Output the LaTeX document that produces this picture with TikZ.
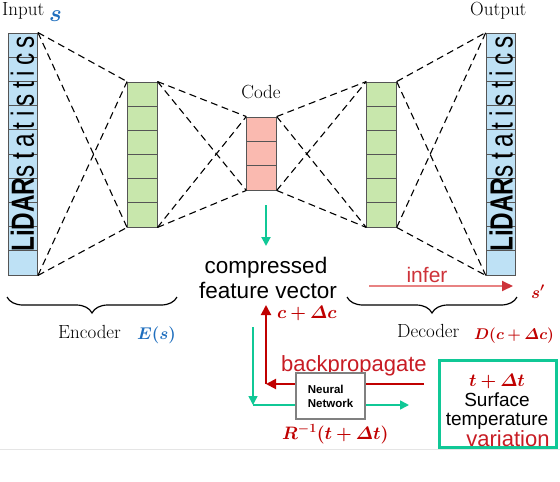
\RequirePackage{fix-cm}
\documentclass[tikz,border=0pt]{standalone}
\usepackage{amsmath}
\usepackage{bm}
\usepackage{fontspec}
\newfontfamily\arialf{Liberation Sans}
\newfontfamily\arialsp[LetterSpace=22]{Liberation Sans}
\usetikzlibrary{arrows.meta,decorations.pathreplacing}
\definecolor{lidarblue}{RGB}{190,225,245}
\definecolor{hidgreen}{RGB}{200,231,172}
\definecolor{codepink}{RGB}{250,186,176}
\definecolor{barb}{RGB}{85,85,85}
\definecolor{tealc}{RGB}{16,200,150}
\definecolor{dkred}{RGB}{192,0,0}
\definecolor{redtxt}{RGB}{200,28,36}
\definecolor{sblue}{RGB}{30,110,190}
\definecolor{inferline}{RGB}{232,130,130}
\definecolor{nngray}{RGB}{128,128,128}
\begin{document}
\begin{tikzpicture}[x=1pt,y=-1pt,
  bar/.style={draw=barb,line width=0.9pt,inner sep=0pt,minimum width=29.5pt},
  cell/.style={draw=barb,line width=0.8pt},
  conn/.style={black,line width=1.1pt,dash pattern=on 7pt off 4.5pt},
  serif/.style={font=\fontsize{19}{22}\selectfont,inner sep=0pt},
  mathlab/.style={font=\fontsize{17}{20}\selectfont,inner sep=0pt},
  sanslab/.style={font=\arialf\fontsize{22}{25}\selectfont,inner sep=0pt},
  lidartext/.style={rotate=90,anchor=base west,inner sep=0pt},
  bracestyle/.style={decorate,decoration={brace,mirror,amplitude=16pt},line width=1.2pt},
  tealarrow/.style={tealc,line width=1.6pt,-{Triangle[length=9pt,width=9pt]}},
  redarrow/.style={dkred,line width=2pt,-{Triangle[length=10pt,width=10pt]}}
]
\useasboundingbox (0,0) rectangle (560,482);
\fill[white] (0,0) rectangle (560,482);
\draw[black!10,line width=0.6pt] (0,449) -- (560,449);

% bars
\node[bar,fill=lidarblue,minimum height=242pt] (in) at (22.75,154) {};
\node[bar,fill=hidgreen,minimum height=145pt] (enc) at (142.25,154.5) {};
\node[bar,fill=codepink,minimum height=73pt] (code) at (261.5,153.5) {};
\node[bar,fill=hidgreen,minimum height=145pt] (dec) at (381.5,154.5) {};
\node[bar,fill=lidarblue,minimum height=242pt] (out) at (501,154) {};

\foreach \i in {1,...,9}{
  \draw[cell] (8,{33+24.2*\i}) -- (37.5,{33+24.2*\i});
  \draw[cell] (486.25,{33+24.2*\i}) -- (515.75,{33+24.2*\i});
}
\foreach \i in {1,...,5}{
  \draw[cell] (127.5,{82+24.17*\i}) -- (157,{82+24.17*\i});
  \draw[cell] (366.75,{82+24.17*\i}) -- (396.25,{82+24.17*\i});
}
\foreach \i in {1,2}{
  \draw[cell] (246.75,{117+24.33*\i}) -- (276.25,{117+24.33*\i});
}

\node[lidartext] (intext) at (34,252) {\scalebox{0.76}[1]{\arialf\fontsize{32}{32}\selectfont\bfseries LiDAR\arialsp\mdseries statistics}};
\node[lidartext] (outtext) at (512.5,252) {\scalebox{0.76}[1]{\arialf\fontsize{32}{32}\selectfont\bfseries LiDAR\arialsp\mdseries statistics}};

% dashed connectors
\foreach \a/\b in {in/enc, enc/code, code/dec, dec/out}{
  \draw[conn] (\a.north east) -- (\b.north west);
  \draw[conn] (\a.north east) -- (\b.south west);
  \draw[conn] (\a.south east) -- (\b.north west);
  \draw[conn] (\a.south east) -- (\b.south west);
}

% top labels
\node[serif,anchor=base west] (inputlab) at (2,15) {Input};
\node[mathlab,text=sblue,anchor=base west,font=\fontsize{24}{26}\selectfont] (slab) at (49,21) {$\bm{s}$};
\node[serif,anchor=base west] (outputlab) at (470,15) {Output};
\node[serif,anchor=base] (codelab) at (261,98) {Code};

% compressed feature vector
\coordinate (ga1) at (266,205);
\coordinate (ga2) at (266,246);
\draw[tealarrow,line width=2pt] (ga1) -- (ga2);
\node[sanslab,anchor=base,font=\arialf\fontsize{22.5}{25}\selectfont] (cf1) at (266,273) {compressed};
\node[sanslab,anchor=base,font=\arialf\fontsize{22.5}{25}\selectfont] (cf2) at (268,298) {feature vector};

% braces
\coordinate (eb1) at (7,297);
\coordinate (eb2) at (177,297);
\coordinate (db1) at (347,297);
\coordinate (db2) at (517,297);
\draw[bracestyle] (eb1) -- (eb2);
\draw[bracestyle] (db1) -- (db2);
\node[serif,anchor=base west] (enclab) at (58,338) {Encoder};
\node[mathlab,text=sblue,anchor=base west] (eslab) at (137,339) {$\bm{E(s)}$};
\node[serif,anchor=base west] (declab) at (397,337) {Decoder};
\node[mathlab,text=dkred,anchor=base west,font=\fontsize{15.5}{18}\selectfont] (dlab) at (474,339) {$\bm{D(c+\varDelta c)}$};

% infer
\coordinate (if1) at (369,286);
\coordinate (if2) at (513,286);
\draw[inferline,line width=2pt,-{Triangle[length=11pt,width=10pt,color=redtxt!90!white]}] (if1) -- (if2);
\node[sanslab,text=redtxt!90!white,anchor=base,font=\arialf\fontsize{21}{24}\selectfont] (inferlab) at (427,282) {infer};
\node[mathlab,text=dkred,anchor=base west] (sprime) at (531,298) {$\bm{s'}$};

% teal path
\coordinate (t1) at (253,327);
\coordinate (t2) at (253,405);
\coordinate (t3) at (409,405);
\draw[tealarrow] (t1) -- (t2);
\draw[tealarrow] (t2) -- (t3);

% red backpropagate path
\coordinate (r1) at (424,384);
\coordinate (r2) at (266,384);
\coordinate (r3) at (266,305);
\draw[redarrow] (r1) -- (r2);
\draw[redarrow] (r2) -- (r3);
\node[mathlab,text=dkred,anchor=base west,font=\fontsize{18}{20}\selectfont] (cdc) at (277,318) {$\bm{c+\varDelta c}$};
\node[sanslab,text=redtxt,anchor=base west] (bplab) at (281,371) {backpropagate};

% neural network box
\node[draw=nngray,line width=2pt,fill=white,minimum width=69pt,minimum height=46pt,inner sep=0pt,
      align=left,font=\arialf\bfseries\fontsize{11.5}{14}\selectfont] (nn) at (330.5,396) {Neural\\Network};
\node[mathlab,text=dkred,anchor=base west,font=\fontsize{18}{20}\selectfont] (rinv) at (282,439) {$\bm{R^{-1}(t+\varDelta t)}$};

% surface temperature box
\node[draw=tealc,line width=3pt,minimum width=117pt,minimum height=87pt,inner sep=0pt] (gb) at (497.5,403.5) {};
\node[mathlab,text=dkred,anchor=base,font=\fontsize{18}{20}\selectfont] (tdt) at (497,386) {$\bm{t+\varDelta t}$};
\node[sanslab,anchor=base,font=\arialf\fontsize{19}{21}\selectfont] (surf) at (497,406) {Surface};
\node[sanslab,anchor=base,font=\arialf\fontsize{19}{21}\selectfont] (temp) at (497,425) {temperature};
\node[sanslab,text=redtxt,anchor=base,font=\arialf\fontsize{22}{24}\selectfont] (var) at (508,446) {variation};
\end{tikzpicture}
\end{document}
